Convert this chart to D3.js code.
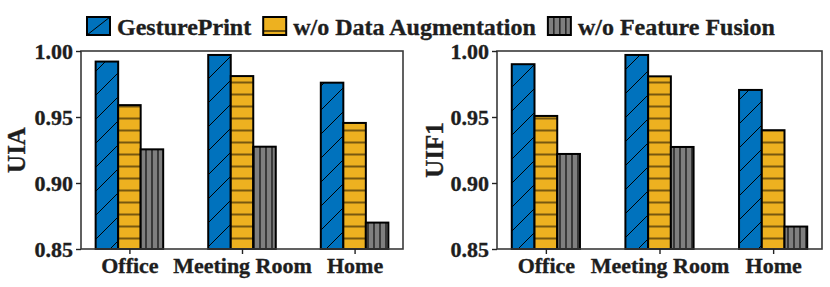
<!DOCTYPE html>
<html><head><meta charset="utf-8">
<script src="https://cdn.jsdelivr.net/npm/d3@7"></script>
<style>html,body{margin:0;padding:0;background:#fff}svg{display:block}</style>
</head><body>
<svg id="c" width="830" height="287"></svg>
<script>
const categories = ["Office", "Meeting Room", "Home"];
const seriesNames = ["GesturePrint", "w/o Data Augmentation", "w/o Feature Fusion"];
const uiaGesturePrint = [0.992, 0.997, 0.976];
const uiaNoAugmentation = [0.959, 0.981, 0.9455];
const uiaNoFusion = [0.9255, 0.9275, 0.870];
const uif1GesturePrint = [0.990, 0.997, 0.9705];
const uif1NoAugmentation = [0.9508, 0.9808, 0.940];
const uif1NoFusion = [0.922, 0.9273, 0.867];
const yTicks = [0.85, 0.90, 0.95, 1.00];

const colors = ["#0072BD", "#EDB120", "#7F7F7F"];
const patIds = ["hatchDiag", "hatchHoriz", "hatchVert"];
const FONT = "'Liberation Serif','Times New Roman',serif";
const TXT = "#1e1e1e";

const svg = d3.select("#c");
const defs = svg.append("defs");
{
  const p = defs.append("pattern").attr("id", patIds[0]).attr("patternUnits", "userSpaceOnUse")
    .attr("width", 24).attr("height", 24).attr("patternTransform", "translate(0,23)");
  p.append("rect").attr("width", 24).attr("height", 24).attr("fill", colors[0]);
  p.append("path").attr("d", "M-2,26 L26,-2 M-2,2 L2,-2 M22,26 L26,22").attr("stroke", "#000").attr("stroke-width", 1);
}
{
  const p = defs.append("pattern").attr("id", patIds[1]).attr("patternUnits", "userSpaceOnUse")
    .attr("width", 12).attr("height", 12).attr("patternTransform", "translate(0,10.5)");
  p.append("rect").attr("width", 12).attr("height", 12).attr("fill", colors[1]);
  p.append("path").attr("d", "M0,0 L12,0 M0,12 L12,12").attr("stroke", "#000").attr("stroke-width", 1.1);
}
{
  const p = defs.append("pattern").attr("id", patIds[2]).attr("patternUnits", "userSpaceOnUse")
    .attr("width", 6).attr("height", 6).attr("patternTransform", "translate(2,0)");
  p.append("rect").attr("width", 6).attr("height", 6).attr("fill", colors[2]);
  p.append("path").attr("d", "M0,0 L0,6 M6,0 L6,6").attr("stroke", "#000").attr("stroke-width", 1.1);
}
function styleText(sel, size) {
  sel.attr("font-family", FONT).attr("font-weight", "bold").attr("font-size", size)
    .attr("fill", TXT).attr("stroke", TXT).attr("stroke-width", 0.35);
}

function panel(x0, x1, yLabel, yLabelX, series) {
  const top = 51, bottom = 249;
  const x = d3.scaleLinear().domain([-0.43, 2.43]).range([x0, x1]);
  const y = d3.scaleLinear().domain([0.85, 1.00]).range([bottom, top]);
  const g = svg.append("g");
  const barW = 0.2;
  const offsets = [-0.2, 0, 0.2];
  series.forEach((vals, si) => {
    g.selectAll(null).data(vals).enter().append("rect")
      .attr("x", (d, i) => x(i + offsets[si] - barW / 2))
      .attr("width", (d, i) => x(i + offsets[si] + barW / 2) - x(i + offsets[si] - barW / 2))
      .attr("y", d => y(d))
      .attr("height", d => y(0.85) - y(d))
      .attr("fill", `url(#${patIds[si]})`)
      .attr("stroke", "#000").attr("stroke-width", 2);
  });
  g.append("rect").attr("x", x0).attr("y", top).attr("width", x1 - x0).attr("height", bottom - top)
    .attr("fill", "none").attr("stroke", "#3a3a3a").attr("stroke-width", 1.6);
  const ya = g.append("g").attr("transform", `translate(${x0},0)`)
    .call(d3.axisLeft(y).tickValues(yTicks).tickFormat(d3.format(".2f")).tickSize(5).tickPadding(3));
  ya.select(".domain").remove();
  ya.selectAll("line").attr("stroke", "#222").attr("stroke-width", 1.4);
  styleText(ya.selectAll("text"), 22);
  const xa = g.append("g").attr("transform", `translate(0,${bottom})`)
    .call(d3.axisBottom(x).tickValues([0, 1, 2]).tickFormat(i => categories[i]).tickSize(5).tickPadding(3));
  xa.select(".domain").remove();
  xa.selectAll("line").attr("stroke", "#222").attr("stroke-width", 1.4);
  styleText(xa.selectAll("text"), 22);
  styleText(g.append("text").attr("transform", `translate(${yLabelX},${(top + bottom) / 2}) rotate(-90)`)
    .attr("text-anchor", "middle").text(yLabel), 25);
}

panel(81, 403, "UIA", 25, [uiaGesturePrint, uiaNoAugmentation, uiaNoFusion]);
panel(497, 822, "UIF1", 443, [uif1GesturePrint, uif1NoAugmentation, uif1NoFusion]);

// legend
const leg = svg.append("g");
let lx = 87;
seriesNames.forEach((name, i) => {
  const bx = lx, by = 17, bw = 23, bh = 18;
  leg.append("rect").attr("x", bx).attr("y", by).attr("width", bw).attr("height", bh)
    .attr("fill", colors[i]);
  if (i === 0) {
    leg.append("path").attr("d", `M${bx},${by + bh} L${bx + bw},${by}`).attr("stroke", "#000").attr("stroke-width", 1);
  } else if (i === 1) {
    leg.append("path").attr("d", `M${bx},${by + 14} L${bx + bw},${by + 14}`).attr("stroke", "#000").attr("stroke-width", 1.1);
  } else {
    leg.append("path").attr("d", [6, 12, 18].map(o => `M${bx + o},${by} L${bx + o},${by + bh}`).join(" "))
      .attr("stroke", "#000").attr("stroke-width", 1.1);
  }
  leg.append("rect").attr("x", bx).attr("y", by).attr("width", bw).attr("height", bh)
    .attr("fill", "none").attr("stroke", "#000").attr("stroke-width", 2);
  const t = leg.append("text").attr("x", lx + 30).attr("y", 35).text(name);
  styleText(t, 24);
  lx = lx + 30 + t.node().getComputedTextLength() + 12;
});
</script>
</body></html>
